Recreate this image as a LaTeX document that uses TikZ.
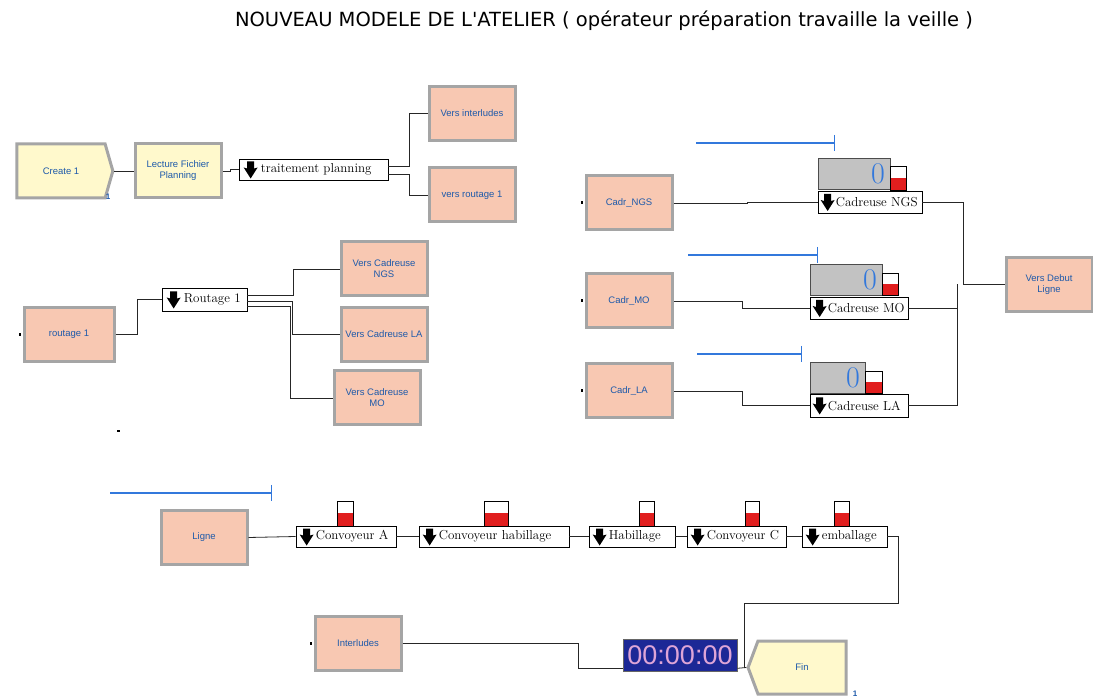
\documentclass[tikz,border=0pt]{standalone}
\usepackage{fontspec}
\newfontfamily\blockfont{Liberation Sans}
\newfontfamily\titlefont{DejaVu Sans}
\usepackage{tikz}
\usetikzlibrary{shapes,arrows,positioning,calc,arrows.meta,shapes.symbols}

\definecolor{salmon}{RGB}{248,200,178}
\definecolor{cream}{RGB}{255,249,204}
\definecolor{rimgray}{RGB}{165,165,165}
\definecolor{labblue}{RGB}{30,90,170}
\definecolor{resblue}{RGB}{50,120,220}
\definecolor{cntgray}{RGB}{194,194,194}
\definecolor{gred}{RGB}{225,30,30}
\definecolor{clockbg}{RGB}{28,40,150}
\definecolor{clocktxt}{RGB}{222,165,215}

\begin{document}
\begin{tikzpicture}[
	x=1pt, y=-1pt,
	module/.style={rectangle, draw=rimgray, line width=3pt, fill=salmon, text=labblue, font=\blockfont\fontsize{9.5}{11}\selectfont, align=center, inner sep=0pt, minimum width=86pt, minimum height=54pt},
	srcmod/.style={module, fill=cream},
	proc/.style={rectangle, draw=black, fill=white, line width=0.7pt, inner sep=0pt, minimum height=21pt},
	proclbl/.style={font=\fontsize{13}{14}\selectfont, inner sep=0pt, anchor=west},
	gauge/.style={rectangle, draw=black, fill=white, line width=0.7pt, inner sep=0pt, path picture={\fill[gred] (path picture bounding box.south west) rectangle (path picture bounding box.east);}},
	counter/.style={rectangle, fill=cntgray, draw=black!70, line width=0.6pt, inner xsep=5pt, inner ysep=0pt, text=resblue, font=\fontsize{30}{30}\selectfont, align=right, minimum height=31pt},
	resline/.style={draw=resblue, line width=1.2pt, -{Bar[width=16pt, line width=1.2pt]}},
	link/.style={draw=black!85, line width=0.8pt},
	unitno/.style={text=labblue, font=\blockfont\bfseries\fontsize{8}{8}\selectfont, inner sep=0pt},
	glyph/.pic={\fill[black] (-3.5,-8) -- (3.5,-8) -- (3.5,-1) -- (7,-2) -- (0,9) -- (-7,-2) -- (-3.5,-1) -- cycle;}
	]
	\useasboundingbox (0,0) rectangle (1093,700);
	
	\node[font=\titlefont\fontsize{19.5}{22}\selectfont] (title) at (604,21) {NOUVEAU MODELE DE L'ATELIER ( opérateur préparation travaille la veille )};
	
	% lecture du planning
	\node[srcmod, signal, signal to=east, signal pointer angle=148, minimum width=96pt] (create1) at (61,171) {Create 1};
	\node[unitno] (create1-n) at (108,197) {1};
	\node[srcmod] (lecture) at (178,171) {Lecture Fichier\\Planning};
	\node[proc, minimum width=149pt] (trait) at (313.5,169.5) {};
	\pic at ($(trait.west)+(12,0)$) {glyph};
	\node[proclbl] (trait-l) at ($(trait.west)+(22,0)$) {traitement planning};
	\node[module] (versint) at (472,113.5) {Vers interludes};
	\node[module] (versrout) at (472,195) {vers routage 1};
	\draw[link] (create1.east) -- (lecture.west);
	\draw[link] (lecture.east) -- ++(8,0) |- (trait.west);
	\draw[link] ($(trait.east)+(0,-3.5)$) -- ++(21,0) |- (versint.west);
	\draw[link] ($(trait.east)+(0,4.5)$) -- ++(21,0) |- (versrout.west);
	
	% routage
	\node[module, minimum width=90pt] (rout1) at (69,334.5) {routage 1};
	\fill (rout1.west) ++(-4,-1.5) rectangle ++(2.5,3);
	\node[proc, minimum width=85pt, minimum height=23pt] (routage) at (204.5,299.5) {};
	\pic at ($(routage.west)+(12,0)$) {glyph};
	\node[proclbl] (routage-l) at ($(routage.west)+(22,0)$) {Routage 1};
	\node[module] (vcngs) at (384,269) {Vers Cadreuse\\NGS};
	\node[module] (vcla) at (384,334.5) {Vers Cadreuse LA};
	\node[module] (vcmo) at (377,398) {Vers Cadreuse\\MO};
	\draw[link] (rout1.east) -- ++(22,0) |- (routage.west);
	\draw[link] ($(routage.east)+(0,-4.5)$) -- ++(46,0) |- (vcngs.west);
	\draw[link] ($(routage.east)+(0,1.5)$) -- ++(45,0) |- (vcla.west);
	\draw[link] ($(routage.east)+(0,6.5)$) -- ++(43,0) |- (vcmo.west);
	\fill (117,430) rectangle (119.5,432.5);
	
	% cadreuses
	\node[module] (cadrngs) at (629,203) {Cadr\_NGS};
	\node[module] (cadrmo) at (629,301) {Cadr\_MO};
	\node[module] (cadrla) at (629,391) {Cadr\_LA};
	\fill (cadrngs.west) ++(-4,-1.5) rectangle ++(2.5,3);
	\fill (cadrmo.west) ++(-4,-1.5) rectangle ++(2.5,3);
	\fill (cadrla.west) ++(-4,-1.5) rectangle ++(2.5,3);
	
	\draw[resline] (696,143) -- (835,143);
	\node[counter, text width=62pt] (cntngs) at (854,174) {0};
	\node[gauge, minimum width=16pt, minimum height=24pt] (gngs) at (898.5,178) {};
	\node[proc, minimum width=104pt, minimum height=22pt] (cadngs) at (870,202) {};
	\pic at ($(cadngs.west)+(10,0)$) {glyph};
	\node[proclbl] (cadngs-l) at ($(cadngs.west)+(18,0)$) {Cadreuse NGS};
	
	\draw[resline] (688,255) -- (818,255);
	\node[counter, text width=62pt] (cntmo) at (846,279.5) {0};
	\node[gauge, minimum width=16pt, minimum height=22pt] (gmo) at (890,284) {};
	\node[proc, minimum width=98pt, minimum height=22pt] (cadmo) at (859,308) {};
	\pic at ($(cadmo.west)+(10,0)$) {glyph};
	\node[proclbl] (cadmo-l) at ($(cadmo.west)+(18,0)$) {Cadreuse MO};
	
	\draw[resline] (697,354) -- (802,354);
	\node[counter, text width=45pt] (cntla) at (837.5,377.5) {0};
	\node[gauge, minimum width=17pt, minimum height=22pt] (gla) at (873.5,382) {};
	\node[proc, minimum width=98pt, minimum height=23pt] (cadla) at (859,405.5) {};
	\pic at ($(cadla.west)+(10,0)$) {glyph};
	\node[proclbl] (cadla-l) at ($(cadla.west)+(18,0)$) {Cadreuse LA};
	
	\node[module] (versdebut) at (1049,284.5) {Vers Debut\\Ligne};
	\coordinate (jn) at (963,284.5);
	\coordinate (jm) at (957,284.5);
	\draw[link] (cadrngs.east) -- ++(74,0) |- (cadngs.west);
	\draw[link] (cadrmo.east) -- ++(69,0) |- (cadmo.west);
	\draw[link] (cadrla.east) -- ++(69,0) |- (cadla.west);
	\draw[link] (cadngs.east) -| (jn) -- (versdebut.west);
	\draw[link] (cadmo.east) -| (jm);
	\draw[link] (cadla.east) -| (jm);
	
	% ligne
	\draw[resline] (110,493) -- (272,493);
	\node[module] (ligne) at (204,537.5) {Ligne};
	\node[proc, minimum width=100pt] (conv1) at (346,536.5) {};
	\pic at ($(conv1.west)+(11,0)$) {glyph};
	\node[proclbl] (conv1-l) at ($(conv1.west)+(20,0)$) {Convoyeur A};
	\node[gauge, minimum width=16pt, minimum height=25pt] (gconv1) at (345,513.5) {};
	\node[proc, minimum width=150pt] (convhab) at (494,536.5) {};
	\pic at ($(convhab.west)+(11,0)$) {glyph};
	\node[proclbl] (convhab-l) at ($(convhab.west)+(20,0)$) {Convoyeur habillage};
	\node[gauge, minimum width=24pt, minimum height=25pt] (gconvhab) at (496,513.5) {};
	\node[proc, minimum width=86pt] (habil) at (632,536.5) {};
	\pic at ($(habil.west)+(11,0)$) {glyph};
	\node[proclbl] (habil-l) at ($(habil.west)+(20,0)$) {Habillage};
	\node[gauge, minimum width=15pt, minimum height=25pt] (ghabil) at (646.5,513.5) {};
	\node[proc, minimum width=99pt] (conv6) at (736.5,536.5) {};
	\pic at ($(conv6.west)+(11,0)$) {glyph};
	\node[proclbl] (conv6-l) at ($(conv6.west)+(20,0)$) {Convoyeur C};
	\node[gauge, minimum width=14pt, minimum height=25pt] (gconv6) at (752,513.5) {};
	\node[proc, minimum width=85pt] (emball) at (844.5,536.5) {};
	\pic at ($(emball.west)+(11,0)$) {glyph};
	\node[proclbl] (emball-l) at ($(emball.west)+(20,0)$) {emballage};
	\node[gauge, minimum width=15pt, minimum height=25pt] (gemball) at (841.5,513.5) {};
	\draw[link] (ligne.east) -- (conv1.west);
	\draw[link] (conv1.east) -- (convhab.west);
	\draw[link] (convhab.east) -- (habil.west);
	\draw[link] (habil.east) -- (conv6.west);
	\draw[link] (conv6.east) -- (emball.west);
	
	% fin
	\node[module] (interl) at (358,643.5) {Interludes};
	\fill (interl.west) ++(-4,-1.5) rectangle ++(2.5,3);
	\node[rectangle, fill=clockbg, draw=black!60, line width=0.6pt, text=clocktxt, font=\blockfont\fontsize{27}{27}\selectfont, minimum width=114pt, minimum height=32pt, inner sep=0pt] (clock) at (680,655) {00:00:00};
	\node[srcmod, signal, signal to=west, signal pointer angle=139, minimum width=98pt, minimum height=53pt] (fin) at (802,667.5) {Fin};
	\node[unitno] (fin-n) at (855,694) {1};
	\coordinate (jf) at (744,668);
	\draw[link] (emball.east) -- ++(11,0) -- ++(0,66.5) -| (jf);
	\draw[link] (interl.east) -- ++(176,0) |- ($(clock.south west)+(0,-3)$);
	\draw[link] ($(clock.south east)+(0,-3)$) -- (fin.west);
	
\end{tikzpicture}
\end{document}
